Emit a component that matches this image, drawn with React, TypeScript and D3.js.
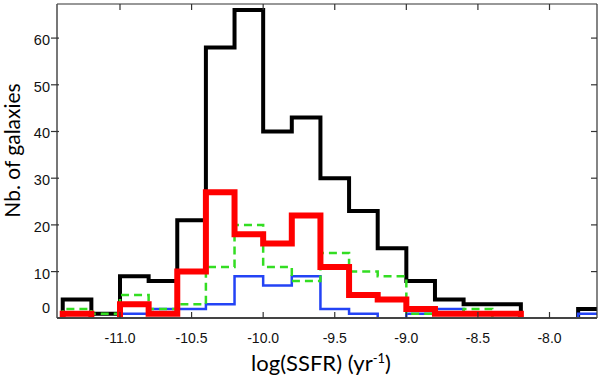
import React from "react";
import * as d3 from "d3";

const binStart = -11.4;
const binWidth = 0.2;
const blackCounts = [4, 1, 9, 8, 21, 58, 66, 40, 43, 30, 23, 15, 8, 4, 3, 3, 0, 0, 2];
const redCounts = [1, 0, 3, 1, 10, 27, 18, 16, 22, 11, 5, 4, 2, 1, 1, 1, 0, 0, 0];
const greenCounts = [2, 1, 5, 2, 3, 11, 20, 11, 8, 14, 10, 9, 1, 1, 2, 0, 0, 0, 0];
const blueCounts = [0, 0, 1, 2, 2, 3, 9, 7, 9, 2, 1, 0, 1, 2, 1, 0, 0, 0, 1];
const xTicks = [-11.0, -10.5, -10.0, -9.5, -9.0, -8.5, -8.0];
const yTicks = [0, 10, 20, 30, 40, 50, 60];

const W = 600;
const H = 379;
const L = 57, R = 597, T = 4, B = 318;

const x = d3.scaleLinear().domain([-11.0, -8.0]).range([120, 549.5]);
const y = d3.scaleLinear().domain([0, 67.3]).range([318.3, 4]);

type P = [number, number] | null;

function stepPoints(counts: number[]): P[] {
  const pts: P[] = [];
  let prev = 0;
  counts.forEach((v, i) => {
    const left = binStart + i * binWidth;
    const right = left + binWidth;
    if (v === 0) {
      if (prev !== 0) {
        pts.push([left, prev]);
        pts.push([left, 0]);
      }
      pts.push(null);
    } else {
      pts.push([left, prev]);
      pts.push([left, v]);
      pts.push([right, v]);
    }
    prev = v;
  });
  if (prev !== 0) {
    const end = binStart + counts.length * binWidth;
    pts.push([end, prev]);
    pts.push([end, 0]);
  }
  return pts;
}

const line = d3
  .line<P>()
  .defined((d) => d !== null)
  .x((d) => x((d as [number, number])[0]))
  .y((d) => y((d as [number, number])[1]));

const series = [
  { name: "black", counts: blackCounts, color: "#000000", width: 4, dash: undefined },
  { name: "blue", counts: blueCounts, color: "#2343f5", width: 2.5, dash: undefined },
  { name: "green", counts: greenCounts, color: "#33dd22", width: 2.5, dash: "8,5" },
  { name: "red", counts: redCounts, color: "#ff0000", width: 6, dash: undefined },
];

export default function App() {
  return (
    <svg width={W} height={H} style={{ position: "absolute", left: 0, top: 0, background: "#fff" }}>
      <defs>
        <clipPath id="plot">
          <rect x={L} y={T} width={R - L} height={B - T} />
        </clipPath>
      </defs>
      <g clipPath="url(#plot)">
        {series.map((s) => (
          <path
            key={s.name}
            d={line(stepPoints(s.counts)) || ""}
            fill="none"
            stroke={s.color}
            strokeWidth={s.width}
            strokeDasharray={s.dash}
            strokeLinejoin="miter"
          />
        ))}
      </g>
      {/* frame */}
      <line x1={L} y1={T} x2={R} y2={T} stroke="#333" strokeWidth={1.2} />
      <line x1={R} y1={T} x2={R} y2={B} stroke="#333" strokeWidth={1.2} />
      <line x1={L} y1={T} x2={L} y2={B} stroke="#555" strokeWidth={1.6} />
      <line x1={L} y1={B} x2={R} y2={B} stroke="#444" strokeWidth={2} />
      {xTicks.map((t) => (
        <g key={"xt" + t}>
          <line x1={x(t)} y1={B} x2={x(t)} y2={B - 6} stroke="#333" strokeWidth={1.2} />
          <line x1={x(t)} y1={T} x2={x(t)} y2={T + 6} stroke="#333" strokeWidth={1.2} />
          <text
            x={x(t)}
            y={343}
            textAnchor="middle"
            fontFamily="Liberation Sans, Arial, sans-serif"
            fontSize={14}
            fill="#111"
          >
            {t.toFixed(1)}
          </text>
        </g>
      ))}
      {yTicks.map((t) => (
        <g key={"yt" + t}>
          {t > 0 && <line x1={L - 6} y1={y(t)} x2={L + 2} y2={y(t)} stroke="#333" strokeWidth={1.2} />}
          {t > 0 && <line x1={R} y1={y(t)} x2={R - 6} y2={y(t)} stroke="#333" strokeWidth={1.2} />}
          <text
            x={50}
            y={t === 0 ? 313 : y(t) + 7}
            textAnchor="end"
            fontFamily="Liberation Sans, Arial, sans-serif"
            fontSize={14.5}
            fill="#111"
          >
            {t}
          </text>
        </g>
      ))}
      <text
        x={321}
        y={371}
        textAnchor="middle"
        fontFamily="Lato, Open Sans, sans-serif"
        fontSize={22}
        fill="#000"
      >
        log(SSFR) (yr
        <tspan fontSize={13} dy={-8}>-1</tspan>
        <tspan dy={8}>)</tspan>
      </text>
      <text
        transform="translate(20,150.5) rotate(-90)"
        textAnchor="middle"
        fontFamily="Lato, Open Sans, sans-serif"
        fontSize={21}
        fill="#000"
      >
        Nb. of galaxies
      </text>
    </svg>
  );
}
